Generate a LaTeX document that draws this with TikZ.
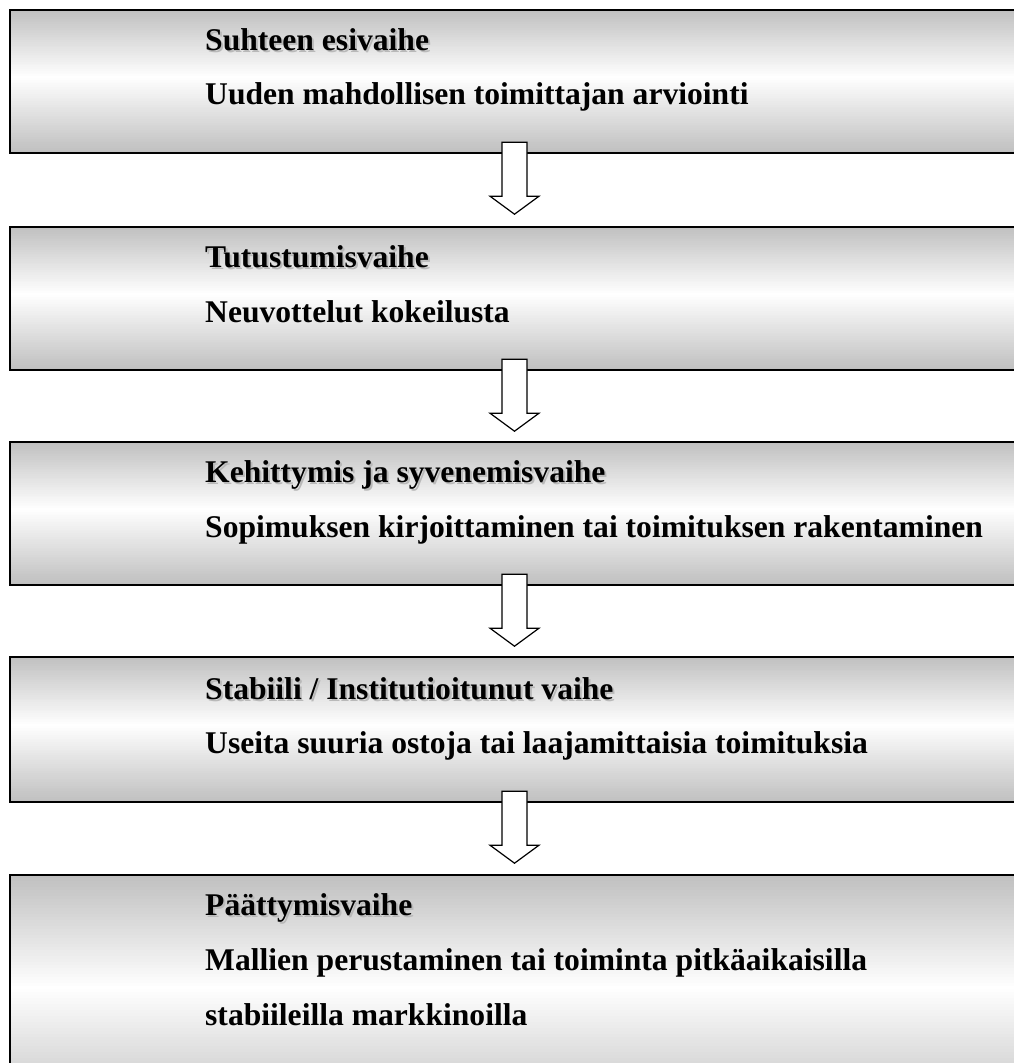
\documentclass[tikz,border=0pt]{standalone}
\usepackage{fontspec}
\setmainfont{Liberation Serif}
\usetikzlibrary{calc}
\tikzset{
  stagebox/.style={rectangle, draw=none, minimum width=1009pt, inner sep=0pt},
  boxborder/.style={draw=black, line width=1.6pt},
  headtxt/.style={anchor=base west, inner sep=0pt, font=\fontsize{31.6}{38}\selectfont\bfseries},
  bodytxt/.style={anchor=base west, inner sep=0pt, font=\fontsize{31.6}{38}\selectfont\bfseries},
  shadowtxt/.style={anchor=base west, inner sep=0pt, text=gray!55, font=\fontsize{31.6}{38}\selectfont\bfseries},
  blockarrow/.style={draw=black, fill=white, line width=1.2pt, line join=miter}
}
\newcommand{\gradfill}[1]{%
  \foreach \i in {0,...,79} {%
    \pgfmathsetmacro\fa{\i/80}%
    \pgfmathsetmacro\fb{(\i+1.2)/80}%
    \pgfmathsetmacro\fm{(\i+0.5)/80}%
    \pgfmathsetmacro\w{\fm<0.47 ? \fm/0.47*100 : (1-\fm)/0.53*100}%
    \fill[white!\w!gray!50] ($(#1.north west)!\fa!(#1.south west)$) rectangle ($(#1.north east)!{min(\fb,1)}!(#1.south east)$);
  }%
  \draw[boxborder] (#1.north west) rectangle (#1.south east);}
\newcommand{\hollowarrow}[1]{%
  \draw[blockarrow] ($(#1.south)+(-12.5,-11)$) -- ($(#1.south)+(-12.5,43)$)
    -- ($(#1.south)+(-24.5,43)$) -- ($(#1.south)+(0,61)$)
    -- ($(#1.south)+(24.5,43)$) -- ($(#1.south)+(12.5,43)$)
    -- ($(#1.south)+(12.5,-11)$) -- cycle;}
\begin{document}
\begin{tikzpicture}[x=1pt, y=-1pt]
\clip (0,0) rectangle (1014,1063);
\fill[white] (0,0) rectangle (1014,1063);
% boxes
\node[stagebox, minimum height=143pt] (b1) at (514.5,81.5) {};
\node[stagebox, minimum height=143pt] (b2) at (514.5,298.5) {};
\node[stagebox, minimum height=143pt] (b3) at (514.5,513.5) {};
\node[stagebox, minimum height=145pt] (b4) at (514.5,729.5) {};
\node[stagebox, minimum height=240pt] (b5) at (514.5,995) {};
\gradfill{b1}
\gradfill{b2}
\gradfill{b3}
\gradfill{b4}
\gradfill{b5}
% arrows
\hollowarrow{b1}
\hollowarrow{b2}
\hollowarrow{b3}
\hollowarrow{b4}
% texts
\node[shadowtxt] at (207,52) {Suhteen esivaihe};
\node[headtxt] (h1) at (205,50) {Suhteen esivaihe};
\node[bodytxt] (l1) at (205,104) {Uuden mahdollisen toimittajan arviointi};

\node[shadowtxt] at (207,269) {Tutustumisvaihe};
\node[headtxt] (h2) at (205,267) {Tutustumisvaihe};
\node[bodytxt] (l2) at (205,322) {Neuvottelut kokeilusta};

\node[shadowtxt] at (207,484) {Kehittymis ja syvenemisvaihe};
\node[headtxt] (h3) at (205,482) {Kehittymis ja syvenemisvaihe};
\node[bodytxt] (l3) at (205,537) {Sopimuksen kirjoittaminen tai toimituksen rakentaminen};

\node[shadowtxt] at (207,701) {Stabiili / Institutioitunut vaihe};
\node[headtxt] (h4) at (205,699) {Stabiili / Institutioitunut vaihe};
\node[bodytxt] (l4) at (205,753) {Useita suuria ostoja tai laajamittaisia toimituksia};

\node[shadowtxt] at (207,917) {Päättymisvaihe};
\node[headtxt] (h5) at (205,915) {Päättymisvaihe};
\node[bodytxt] (l5a) at (205,970) {Mallien perustaminen tai toiminta pitkäaikaisilla};
\node[bodytxt] (l5b) at (205,1025) {stabiileilla markkinoilla};
\end{tikzpicture}
\end{document}
